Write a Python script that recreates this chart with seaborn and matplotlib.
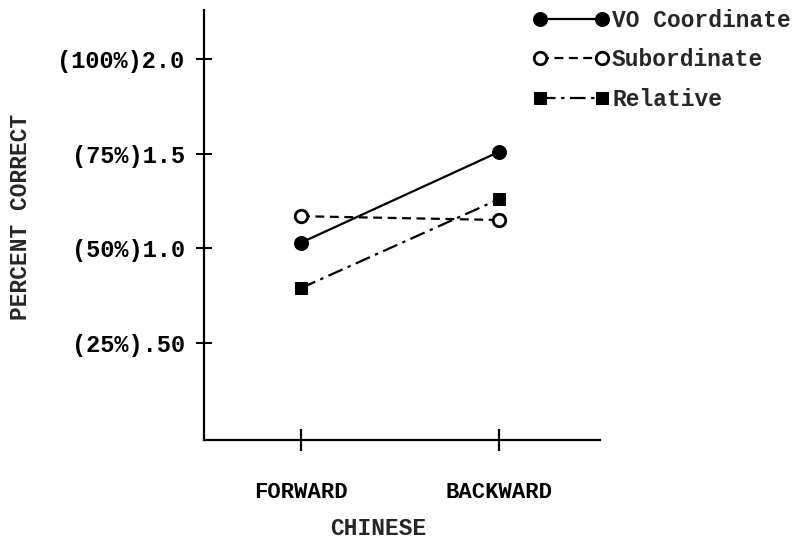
import numpy as np
import pandas as pd
import matplotlib
matplotlib.use("Agg")
import matplotlib.pyplot as plt
import seaborn as sns

# values
conditions = ["FORWARD", "BACKWARD"]
vo_coordinate = [1.03, 1.51]
subordinate = [1.17, 1.15]
relative = [0.79, 1.26]
y_ticks = [0.5, 1.0, 1.5, 2.0]
y_tick_labels = ["(25%).50", "(50%)1.0", "(75%)1.5", "(100%)2.0"]

df = pd.DataFrame({
    "pos": list(range(len(conditions))) * 3,
    "score": vo_coordinate + subordinate + relative,
    "series": ["VO Coordinate"] * 2 + ["Subordinate"] * 2 + ["Relative"] * 2,
})

sns.set_style("ticks")
plt.rcParams["font.family"] = ["Liberation Mono", "DejaVu Sans Mono"]
plt.rcParams["font.weight"] = "bold"
plt.rcParams["axes.labelweight"] = "bold"

fig = plt.figure(figsize=(7.98, 5.44), dpi=100)
ax = fig.add_axes([0.2556, 0.1912, 0.4962, 0.7904])

styles = {
    "VO Coordinate": dict(marker="o", ls="-", mfc="black", ms=10),
    "Subordinate": dict(marker="o", ls=(0, (4, 2.5)), mfc="white", ms=9, mew=2),
    "Relative": dict(marker="s", ls=(0, (7, 2.5, 1.5, 2.5)), mfc="black", ms=9),
}
for name, st in styles.items():
    sns.lineplot(data=df[df["series"] == name], x="pos", y="score",
                 color="black", lw=1.6, mec="black", label=name, ax=ax, **st)

ax.set_xlim(-0.49, 1.51)
ax.set_ylim(-0.013, 2.26)
ax.set_xticks(range(len(conditions)))
ax.set_xticklabels(conditions)
ax.set_yticks(y_ticks)
ax.set_yticklabels(y_tick_labels)

for s in ["top", "right"]:
    ax.spines[s].set_visible(False)
for s in ["left", "bottom"]:
    ax.spines[s].set_linewidth(1.6)
    ax.spines[s].set_color("black")

ax.tick_params(axis="y", direction="inout", length=12, width=1.4,
               pad=8, labelsize=17, colors="black")
ax.tick_params(axis="x", direction="inout", length=16, width=1.6,
               pad=22, labelsize=16, colors="black")

ax.set_xlabel("CHINESE", fontsize=16.5)
ax.xaxis.set_label_coords(0.44, -0.178)
ax.set_ylabel("PERCENT CORRECT", fontsize=16.5)
ax.yaxis.set_label_coords(-0.435, 0.52)

ax.legend(loc="upper left", bbox_to_anchor=(533 / 798, 1 - 9 / 544),
          bbox_transform=fig.transFigure, frameon=False, numpoints=2,
          handlelength=3.3, handletextpad=0.15, labelspacing=0.72,
          borderpad=0, borderaxespad=0, fontsize=16.5)

fig.savefig("out.png", dpi=100, facecolor="white")
